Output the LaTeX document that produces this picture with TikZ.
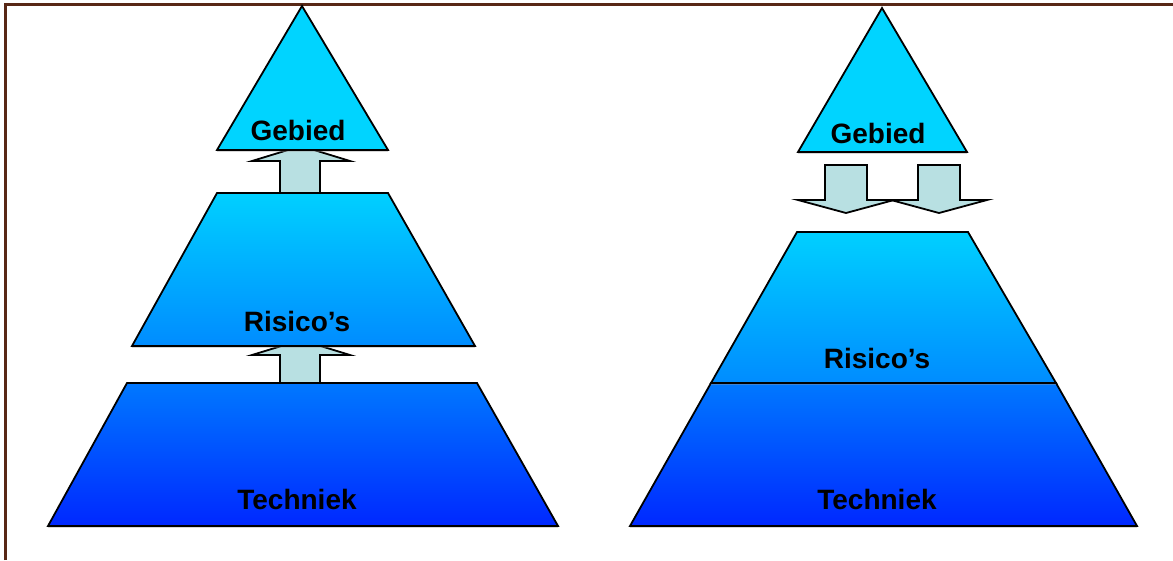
\documentclass[tikz,border=0pt]{standalone}
\usepackage{fontspec}
\setmainfont{Liberation Sans}
\usetikzlibrary{shadows}

\definecolor{framebrown}{RGB}{88,40,22}
\definecolor{capcyan}{RGB}{0,212,255}
\definecolor{layertop}{RGB}{0,208,255}
\definecolor{layermid}{RGB}{0,140,255}
\definecolor{basetop}{RGB}{0,120,255}
\definecolor{basebottom}{RGB}{0,40,255}
\definecolor{arrowfill}{RGB}{184,224,226}

\begin{document}
\begin{tikzpicture}[
    x=1pt, y=-1pt,
    every node/.style={align=center},
    level_shape/.style={
        draw=black,
        line width=1.8pt,
        line join=miter,
        drop shadow={shadow xshift=0pt, shadow yshift=-1.5pt, fill=black!40, opacity=.6}
    },
    level_cap/.style={level_shape, fill=capcyan},
    level_mid/.style={level_shape, top color=layertop, bottom color=layermid},
    level_base/.style={level_shape, top color=basetop, bottom color=basebottom},
    arrow_block/.style={draw=black, line width=1.8pt, fill=arrowfill, line join=miter},
    level_text/.style={font=\fontsize{28}{32}\selectfont\bfseries, inner sep=0pt}
]
    \useasboundingbox (0,0) rectangle (1173,560);
    % frame
    \draw[framebrown, line width=3pt] (5,560) -- (5,4) -- (1173,4);

    % links: pijlen omhoog
    \path[arrow_block] (280,200) -- (280,161) -- (252,161) -- (301,146)
        -- (350,161) -- (320,161) -- (320,200) -- cycle;
    \path[arrow_block] (280,390) -- (280,355) -- (252,355) -- (301,340)
        -- (350,355) -- (320,355) -- (320,390) -- cycle;

    % links: piramide
    \path[level_base] (127,383) -- (477,383) -- (558,526) -- (48,526) -- cycle;
    \path[level_mid] (217,193) -- (388,193) -- (475,346) -- (132,346) -- cycle;
    \path[level_cap] (302,6) -- (388,150) -- (217,150) -- cycle;

    \node[level_text] (gebied_l) at (298,130) {Gebied};
    \node[level_text] (risico_l) at (297,321) {Risico’s};
    \node[level_text] (techniek_l) at (297,499) {Techniek};

    % rechts: pijlen omlaag
    \path[arrow_block] (825,165) -- (867,165) -- (867,200) -- (894,200)
        -- (846,213) -- (798,200) -- (825,200) -- cycle;
    \path[arrow_block] (918,165) -- (960,165) -- (960,200) -- (987,200)
        -- (939,213) -- (891,200) -- (918,200) -- cycle;

    % rechts: piramide
    \path[level_base] (711,383) -- (1056,383) -- (1137,526) -- (630,526) -- cycle;
    \path[level_mid] (797,232) -- (968,232) -- (1056,383) -- (711,383) -- cycle;
    \path[level_cap] (882,8) -- (967,152) -- (798,152) -- cycle;

    \node[level_text] (gebied_r) at (878,133) {Gebied};
    \node[level_text] (risico_r) at (877,358) {Risico’s};
    \node[level_text] (techniek_r) at (877,499) {Techniek};
\end{tikzpicture}
\end{document}
